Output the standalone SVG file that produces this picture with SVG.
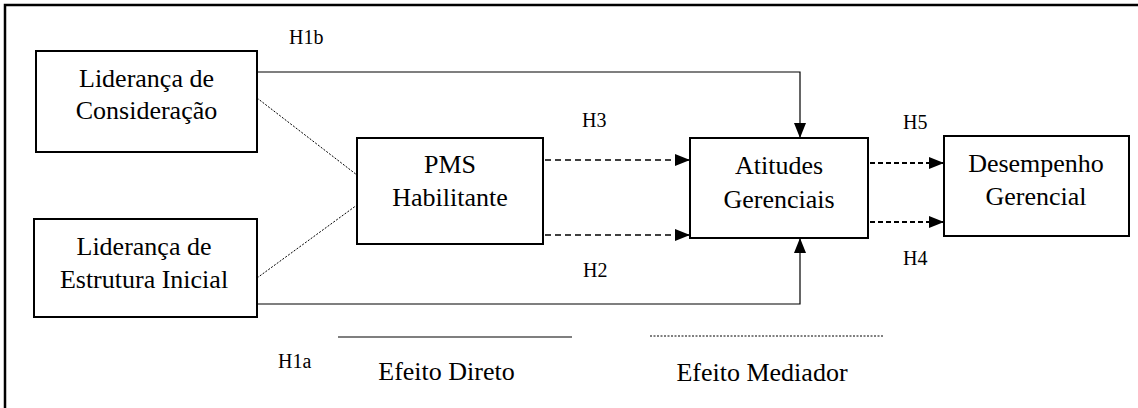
<svg xmlns="http://www.w3.org/2000/svg" width="1138" height="408" viewBox="0 0 1138 408">
<style>
.box{fill:#fff;stroke:#000;stroke-width:2}
.t{font-family:'Liberation Serif','Times New Roman',serif;font-size:26px;fill:#000;text-anchor:middle}
.h{font-family:'Liberation Serif','Times New Roman',serif;font-size:20px;fill:#000}
.solid{fill:none;stroke:#000;stroke-width:1.2}
.dash{fill:none;stroke:#000;stroke-width:1.3;stroke-dasharray:6 4}
.dashb{fill:none;stroke:#000;stroke-width:2;stroke-dasharray:5 3}
.fine{fill:none;stroke:#000;stroke-width:1;stroke-dasharray:2 1.5}
</style>
<defs>
<marker id="ah" viewBox="0 0 15 12" refX="15" refY="6" markerWidth="15" markerHeight="12" markerUnits="userSpaceOnUse" orient="auto">
<path d="M0,0 L15,6 L0,12 z" fill="#000"/>
</marker>
</defs>
<rect x="5" y="5" width="1140" height="410" fill="#fff" stroke="#000" stroke-width="2.5"/>
<g id="connectors">
<path class="solid" d="M257,72 H800 V138" marker-end="url(#ah)"/>
<path class="solid" d="M257,304 H800 V238" marker-end="url(#ah)"/>
<path class="fine" d="M257,98 L357,175"/>
<path class="fine" d="M257,278 L357,205"/>
<path class="dash" d="M545,160 H690" marker-end="url(#ah)"/>
<path class="dash" d="M545,235 H690" marker-end="url(#ah)"/>
<path class="dashb" d="M870,163 H944" marker-end="url(#ah)"/>
<path class="dashb" d="M870,222 H944" marker-end="url(#ah)"/>
</g>
<g id="n1">
<rect class="box" x="36" y="51" width="221" height="101"/>
<text class="t" x="146.5" y="87">Liderança de</text>
<text class="t" x="146.5" y="119">Consideração</text>
</g>
<g id="n2">
<rect class="box" x="34" y="219" width="223" height="98"/>
<text class="t" x="144" y="255">Liderança de</text>
<text class="t" x="144" y="288">Estrutura Inicial</text>
</g>
<g id="n3">
<rect class="box" x="357" y="138" width="186" height="106"/>
<text class="t" x="450" y="173">PMS</text>
<text class="t" x="450" y="206">Habilitante</text>
</g>
<g id="n4">
<rect class="box" x="690" y="138" width="178" height="100"/>
<text class="t" x="779" y="174">Atitudes</text>
<text class="t" x="779" y="208">Gerenciais</text>
</g>
<g id="n5">
<rect class="box" x="944" y="136" width="185" height="100"/>
<text class="t" x="1036" y="172">Desempenho</text>
<text class="t" x="1036" y="205">Gerencial</text>
</g>
<g id="labels">
<text class="h" x="289" y="44">H1b</text>
<text class="h" x="582" y="127">H3</text>
<text class="h" x="583" y="277">H2</text>
<text class="h" x="903" y="129">H5</text>
<text class="h" x="903" y="265">H4</text>
<text class="h" x="278" y="368">H1a</text>
</g>
<g id="legend">
<line x1="338" y1="337" x2="572" y2="337" stroke="#000" stroke-width="1.2"/>
<line x1="650" y1="336" x2="883" y2="336" stroke="#000" stroke-width="1" stroke-dasharray="2 1.5"/>
<text class="t" x="446.5" y="380">Efeito Direto</text>
<text class="t" x="762" y="381">Efeito Mediador</text>
</g>
</svg>
